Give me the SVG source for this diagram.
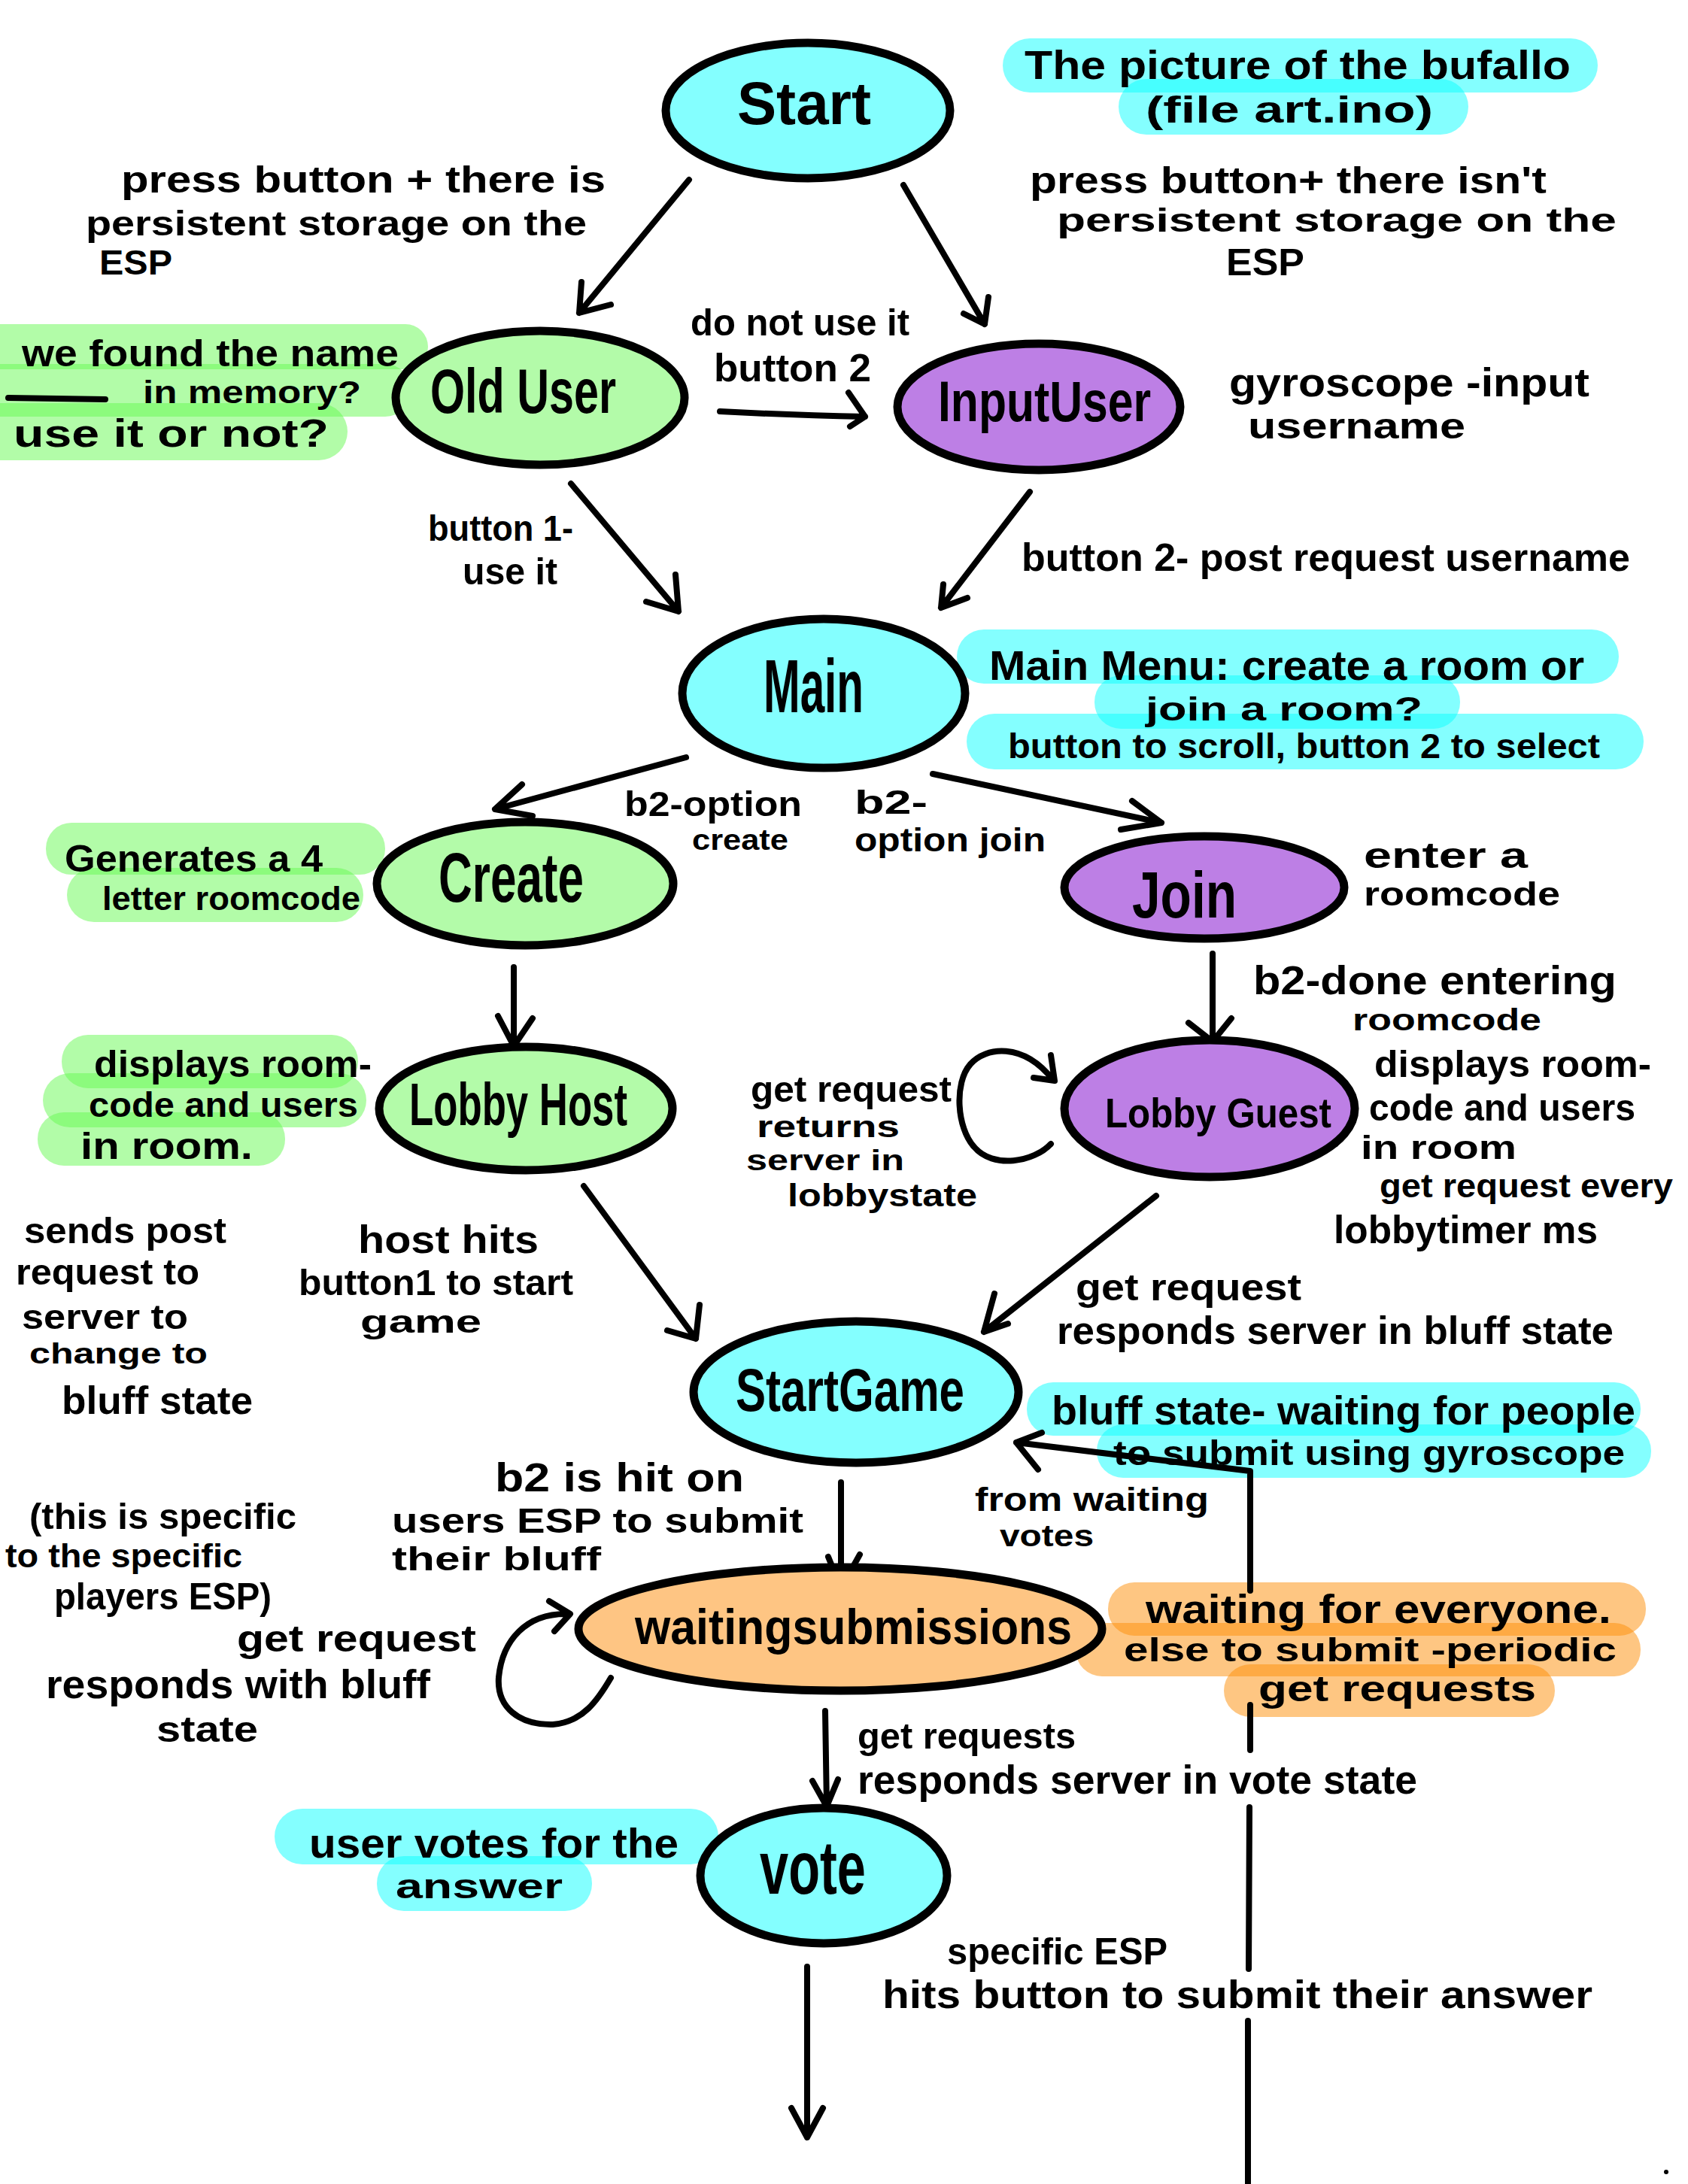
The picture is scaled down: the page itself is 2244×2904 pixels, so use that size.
<svg xmlns="http://www.w3.org/2000/svg" width="2244" height="2904" viewBox="0 0 2244 2904">
<style>
.t{font-family:"Liberation Sans",Arial,sans-serif;font-weight:700;fill:#000}
.n{stroke:#000;stroke-width:11}
.cy{fill:#84ffff}.gr{fill:#b3fba9}.pu{fill:#bd7fe5}.or{fill:#fec583}
.hc{fill:#09ffff;opacity:.5}.hg{fill:#65f951;opacity:.5}.ho{fill:#fd8d05;opacity:.5}
.c{fill:none;stroke:#000;stroke-width:8;stroke-linecap:round;stroke-linejoin:round}
</style>
<rect width="2244" height="2904" fill="#fff"/>
<g id="highlights">
<rect class="hc" x="1333" y="51" width="791" height="72" rx="36"/>
<rect class="hc" x="1487" y="105" width="465" height="74" rx="37"/>
<rect class="hc" x="1272" y="837" width="880" height="72" rx="36"/>
<rect class="hc" x="1455" y="898" width="486" height="71" rx="35"/>
<rect class="hc" x="1285" y="949" width="900" height="74" rx="37"/>
<rect class="hc" x="1365" y="1838" width="816" height="71" rx="35"/>
<rect class="hc" x="1458" y="1894" width="737" height="71" rx="35"/>
<rect class="hc" x="365" y="2405" width="590" height="74" rx="37"/>
<rect class="hc" x="501" y="2468" width="286" height="73" rx="36"/>
<rect class="hg" x="-40" y="431" width="609" height="60" rx="30"/>
<rect class="hg" x="-40" y="484" width="587" height="70" rx="35"/>
<rect class="hg" x="-40" y="536" width="502" height="76" rx="38"/>
<rect class="hg" x="61" y="1094" width="451" height="69" rx="34"/>
<rect class="hg" x="89" y="1154" width="394" height="72" rx="36"/>
<rect class="hg" x="82" y="1376" width="394" height="71" rx="35"/>
<rect class="hg" x="57" y="1427" width="430" height="72" rx="36"/>
<rect class="hg" x="50" y="1479" width="329" height="71" rx="35"/>
<rect class="ho" x="1473" y="2104" width="715" height="71" rx="35"/>
<rect class="ho" x="1430" y="2158" width="751" height="71" rx="35"/>
<rect class="ho" x="1627" y="2213" width="440" height="70" rx="35"/>
</g>
<g id="connectors">
<path class="c" d="M916,239 L770,416 M773,375 L770,416 L812,405"/>
<path class="c" d="M1201,246 L1309,431 M1281,417 L1309,431 L1314,395"/>
<path class="c" d="M957,547 Q1050,552 1150,554 M1128,522 L1150,554 L1130,567"/>
<path class="c" d="M759,643 L902,813 M859,800 L902,813 L898,764"/>
<path class="c" d="M1369,654 L1251,808 M1286,795 L1251,808 L1254,777"/>
<path class="c" d="M912,1007 L658,1076 M694,1043 L658,1076 L708,1085"/>
<path class="c" d="M1240,1029 L1544,1094 M1505,1065 L1544,1094 L1490,1103"/>
<path class="c" d="M683,1286 L683,1391 M662,1351 L683,1391 L708,1354"/>
<path class="c" d="M1612,1268 L1612,1385 M1580,1360 L1612,1385 L1637,1354"/>
<path class="c" d="M776,1577 L925,1780 M887,1769 L925,1780 L930,1735"/>
<path class="c" d="M1537,1590 L1308,1771 M1322,1720 L1308,1771 L1340,1760"/>
<path class="c" d="M1397,1521 C1375,1545 1320,1555 1295,1525 C1272,1500 1268,1440 1290,1415 C1310,1392 1360,1385 1400,1436 M1397,1403 L1402,1437 L1374,1433"/>
<path class="c" d="M1118,1971 L1118,2112 M1101,2070 L1118,2112 L1143,2067"/>
<path class="c" d="M752,2146 C700,2146 668,2180 663,2230 C660,2270 690,2294 735,2293 C775,2290 795,2260 812,2231 M730,2129 L758,2146 L737,2169"/>
<path class="c" d="M1097,2275 L1099,2402 M1080,2368 L1099,2402 L1114,2366"/>
<path class="c" d="M1662,2115 L1662,1956 L1351,1918 M1385,1905 L1351,1918 L1380,1954"/>
<path class="c" d="M1662,2267 L1662,2327 M1661,2403 L1660,2618 M1659,2687 L1659,2910"/>
<path class="c" d="M1073,2615 L1073,2842 M1052,2803 L1073,2842 L1094,2803"/>
<path class="c" stroke-width="10" d="M11,529 L140,531"/>
<circle cx="2215" cy="2888" r="3" fill="#000"/>
</g>
<g id="start"><ellipse class="n cy" cx="1074" cy="147" rx="189" ry="90"/><text class="t" x="980" y="165" font-size="80" textLength="178" lengthAdjust="spacingAndGlyphs">Start</text></g>
<g id="olduser"><ellipse class="n gr" cx="718" cy="529" rx="192" ry="89"/><text class="t" x="572" y="549" font-size="84" textLength="247" lengthAdjust="spacingAndGlyphs">Old User</text></g>
<g id="inputuser"><ellipse class="n pu" cx="1381" cy="541" rx="188" ry="84"/><text class="t" x="1247" y="560" font-size="76" textLength="283" lengthAdjust="spacingAndGlyphs">InputUser</text></g>
<g id="main"><ellipse class="n cy" cx="1095" cy="922" rx="188" ry="99"/><text class="t" x="1015" y="947" font-size="100" textLength="133" lengthAdjust="spacingAndGlyphs">Main</text></g>
<g id="create"><ellipse class="n gr" cx="698" cy="1175" rx="197" ry="82"/><text class="t" x="583" y="1199" font-size="92" textLength="193" lengthAdjust="spacingAndGlyphs">Create</text></g>
<g id="join"><ellipse class="n pu" cx="1601" cy="1180" rx="186" ry="68"/><text class="t" x="1505" y="1220" font-size="88" textLength="139" lengthAdjust="spacingAndGlyphs">Join</text></g>
<g id="lobbyhost"><ellipse class="n gr" cx="699" cy="1474" rx="195" ry="82"/><text class="t" x="544" y="1496" font-size="80" textLength="290" lengthAdjust="spacingAndGlyphs">Lobby Host</text></g>
<g id="lobbyguest"><ellipse class="n pu" cx="1608" cy="1474" rx="193" ry="91"/><text class="t" x="1469" y="1499" font-size="56" textLength="301" lengthAdjust="spacingAndGlyphs">Lobby Guest</text></g>
<g id="startgame"><ellipse class="n cy" cx="1138" cy="1851" rx="216" ry="94"/><text class="t" x="978" y="1876" font-size="80" textLength="304" lengthAdjust="spacingAndGlyphs">StartGame</text></g>
<g id="waitingsubmissions"><ellipse class="n or" cx="1117" cy="2166" rx="348" ry="82"/><text class="t" x="844" y="2186" font-size="66" textLength="581" lengthAdjust="spacingAndGlyphs">waitingsubmissions</text></g>
<g id="vote"><ellipse class="n cy" cx="1095" cy="2494" rx="164" ry="90"/><text class="t" x="1010" y="2518" font-size="100" textLength="141" lengthAdjust="spacingAndGlyphs">vote</text></g>
<g id="labels">
<text class="t" x="161" y="256" font-size="50" textLength="644" lengthAdjust="spacingAndGlyphs">press button + there is</text>
<text class="t" x="114" y="313" font-size="46" textLength="666" lengthAdjust="spacingAndGlyphs">persistent storage on the</text>
<text class="t" x="132" y="365" font-size="46" textLength="97" lengthAdjust="spacingAndGlyphs">ESP</text>
<text class="t" x="1362" y="105" font-size="54" textLength="726" lengthAdjust="spacingAndGlyphs">The picture of the bufallo</text>
<text class="t" x="1523" y="163" font-size="50" textLength="382" lengthAdjust="spacingAndGlyphs">(file art.ino)</text>
<text class="t" x="1369" y="257" font-size="50" textLength="687" lengthAdjust="spacingAndGlyphs">press button+ there isn't</text>
<text class="t" x="1405" y="308" font-size="44" textLength="744" lengthAdjust="spacingAndGlyphs">persistent storage on the</text>
<text class="t" x="1630" y="366" font-size="50" textLength="104" lengthAdjust="spacingAndGlyphs">ESP</text>
<text class="t" x="29" y="487" font-size="50" textLength="501" lengthAdjust="spacingAndGlyphs">we found the name</text>
<text class="t" x="190" y="536" font-size="42" textLength="290" lengthAdjust="spacingAndGlyphs">in memory?</text>
<text class="t" x="18" y="594" font-size="52" textLength="419" lengthAdjust="spacingAndGlyphs">use it or not?</text>
<text class="t" x="918" y="446" font-size="50" textLength="291" lengthAdjust="spacingAndGlyphs">do not use it</text>
<text class="t" x="949" y="507" font-size="52" textLength="209" lengthAdjust="spacingAndGlyphs">button 2</text>
<text class="t" x="1634" y="527" font-size="54" textLength="479" lengthAdjust="spacingAndGlyphs">gyroscope -input</text>
<text class="t" x="1659" y="583" font-size="48" textLength="289" lengthAdjust="spacingAndGlyphs">username</text>
<text class="t" x="569" y="719" font-size="48" textLength="193" lengthAdjust="spacingAndGlyphs">button 1-</text>
<text class="t" x="615" y="777" font-size="50" textLength="126" lengthAdjust="spacingAndGlyphs">use it</text>
<text class="t" x="1358" y="759" font-size="52" textLength="809" lengthAdjust="spacingAndGlyphs">button 2- post request username</text>
<text class="t" x="1315" y="904" font-size="56" textLength="791" lengthAdjust="spacingAndGlyphs">Main Menu: create a room or</text>
<text class="t" x="1523" y="958" font-size="44" textLength="368" lengthAdjust="spacingAndGlyphs">join a room?</text>
<text class="t" x="1340" y="1008" font-size="46" textLength="787" lengthAdjust="spacingAndGlyphs">button to scroll, button 2 to select</text>
<text class="t" x="830" y="1085" font-size="46" textLength="236" lengthAdjust="spacingAndGlyphs">b2-option</text>
<text class="t" x="920" y="1130" font-size="38" textLength="128" lengthAdjust="spacingAndGlyphs">create</text>
<text class="t" x="1136" y="1082" font-size="44" textLength="97" lengthAdjust="spacingAndGlyphs">b2-</text>
<text class="t" x="1136" y="1132" font-size="44" textLength="254" lengthAdjust="spacingAndGlyphs">option join</text>
<text class="t" x="86" y="1159" font-size="50" textLength="343" lengthAdjust="spacingAndGlyphs">Generates a 4</text>
<text class="t" x="136" y="1210" font-size="44" textLength="343" lengthAdjust="spacingAndGlyphs">letter roomcode</text>
<text class="t" x="1813" y="1154" font-size="48" textLength="218" lengthAdjust="spacingAndGlyphs">enter a</text>
<text class="t" x="1813" y="1204" font-size="44" textLength="261" lengthAdjust="spacingAndGlyphs">roomcode</text>
<text class="t" x="1666" y="1322" font-size="54" textLength="483" lengthAdjust="spacingAndGlyphs">b2-done entering</text>
<text class="t" x="1798" y="1370" font-size="40" textLength="251" lengthAdjust="spacingAndGlyphs">roomcode</text>
<text class="t" x="125" y="1432" font-size="50" textLength="369" lengthAdjust="spacingAndGlyphs">displays room-</text>
<text class="t" x="118" y="1485" font-size="46" textLength="358" lengthAdjust="spacingAndGlyphs">code and users</text>
<text class="t" x="107" y="1541" font-size="50" textLength="229" lengthAdjust="spacingAndGlyphs">in room.</text>
<text class="t" x="1827" y="1432" font-size="50" textLength="368" lengthAdjust="spacingAndGlyphs">displays room-</text>
<text class="t" x="1820" y="1490" font-size="50" textLength="354" lengthAdjust="spacingAndGlyphs">code and users</text>
<text class="t" x="1809" y="1541" font-size="44" textLength="207" lengthAdjust="spacingAndGlyphs">in room</text>
<text class="t" x="1834" y="1592" font-size="44" textLength="390" lengthAdjust="spacingAndGlyphs">get request every</text>
<text class="t" x="1773" y="1653" font-size="52" textLength="351" lengthAdjust="spacingAndGlyphs">lobbytimer ms</text>
<text class="t" x="998" y="1465" font-size="48" textLength="267" lengthAdjust="spacingAndGlyphs">get request</text>
<text class="t" x="1006" y="1512" font-size="40" textLength="190" lengthAdjust="spacingAndGlyphs">returns</text>
<text class="t" x="992" y="1556" font-size="38" textLength="210" lengthAdjust="spacingAndGlyphs">server in</text>
<text class="t" x="1047" y="1604" font-size="42" textLength="252" lengthAdjust="spacingAndGlyphs">lobbystate</text>
<text class="t" x="32" y="1653" font-size="48" textLength="269" lengthAdjust="spacingAndGlyphs">sends post</text>
<text class="t" x="21" y="1708" font-size="48" textLength="244" lengthAdjust="spacingAndGlyphs">request to</text>
<text class="t" x="29" y="1767" font-size="46" textLength="221" lengthAdjust="spacingAndGlyphs">server to</text>
<text class="t" x="39" y="1813" font-size="38" textLength="237" lengthAdjust="spacingAndGlyphs">change to</text>
<text class="t" x="82" y="1880" font-size="52" textLength="254" lengthAdjust="spacingAndGlyphs">bluff state</text>
<text class="t" x="476" y="1666" font-size="52" textLength="240" lengthAdjust="spacingAndGlyphs">host hits</text>
<text class="t" x="397" y="1722" font-size="48" textLength="365" lengthAdjust="spacingAndGlyphs">button1 to start</text>
<text class="t" x="479" y="1772" font-size="42" textLength="161" lengthAdjust="spacingAndGlyphs">game</text>
<text class="t" x="1430" y="1729" font-size="50" textLength="300" lengthAdjust="spacingAndGlyphs">get request</text>
<text class="t" x="1405" y="1787" font-size="52" textLength="740" lengthAdjust="spacingAndGlyphs">responds server in bluff state</text>
<text class="t" x="1398" y="1894" font-size="54" textLength="776" lengthAdjust="spacingAndGlyphs">bluff state- waiting for people</text>
<text class="t" x="1480" y="1948" font-size="46" textLength="680" lengthAdjust="spacingAndGlyphs">to submit using gyroscope</text>
<text class="t" x="658" y="1983" font-size="54" textLength="331" lengthAdjust="spacingAndGlyphs">b2 is hit on</text>
<text class="t" x="521" y="2038" font-size="46" textLength="547" lengthAdjust="spacingAndGlyphs">users ESP to submit</text>
<text class="t" x="521" y="2088" font-size="44" textLength="278" lengthAdjust="spacingAndGlyphs">their bluff</text>
<text class="t" x="1296" y="2009" font-size="44" textLength="311" lengthAdjust="spacingAndGlyphs">from waiting</text>
<text class="t" x="1329" y="2056" font-size="40" textLength="125" lengthAdjust="spacingAndGlyphs">votes</text>
<text class="t" x="39" y="2033" font-size="48" textLength="355" lengthAdjust="spacingAndGlyphs">(this is specific</text>
<text class="t" x="7" y="2084" font-size="44" textLength="315" lengthAdjust="spacingAndGlyphs">to the specific</text>
<text class="t" x="72" y="2140" font-size="50" textLength="289" lengthAdjust="spacingAndGlyphs">players ESP)</text>
<text class="t" x="315" y="2196" font-size="50" textLength="318" lengthAdjust="spacingAndGlyphs">get request</text>
<text class="t" x="61" y="2258" font-size="54" textLength="511" lengthAdjust="spacingAndGlyphs">responds with bluff</text>
<text class="t" x="208" y="2316" font-size="48" textLength="135" lengthAdjust="spacingAndGlyphs">state</text>
<text class="t" x="1523" y="2158" font-size="54" textLength="619" lengthAdjust="spacingAndGlyphs">waiting for everyone.</text>
<text class="t" x="1494" y="2209" font-size="44" textLength="655" lengthAdjust="spacingAndGlyphs">else to submit -periodic</text>
<text class="t" x="1673" y="2262" font-size="48" textLength="369" lengthAdjust="spacingAndGlyphs">get requests</text>
<text class="t" x="1140" y="2325" font-size="48" textLength="290" lengthAdjust="spacingAndGlyphs">get requests</text>
<text class="t" x="1140" y="2385" font-size="54" textLength="744" lengthAdjust="spacingAndGlyphs">responds server in vote state</text>
<text class="t" x="411" y="2470" font-size="56" textLength="491" lengthAdjust="spacingAndGlyphs">user votes for the</text>
<text class="t" x="526" y="2524" font-size="46" textLength="222" lengthAdjust="spacingAndGlyphs">answer</text>
<text class="t" x="1259" y="2612" font-size="50" textLength="293" lengthAdjust="spacingAndGlyphs">specific ESP</text>
<text class="t" x="1173" y="2670" font-size="52" textLength="944" lengthAdjust="spacingAndGlyphs">hits button to submit their answer</text>
</g>
</svg>
